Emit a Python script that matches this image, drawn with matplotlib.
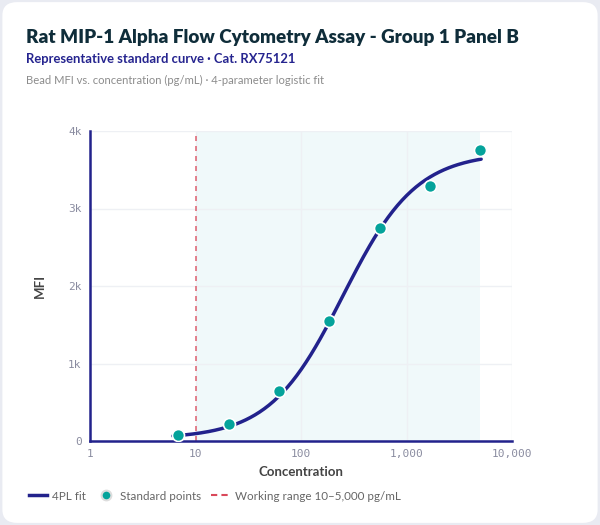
import numpy as np
import matplotlib.pyplot as plt
from matplotlib.patches import FancyBboxPatch
from matplotlib.lines import Line2D
from matplotlib.ticker import FixedLocator, FixedFormatter

# standard points (3-fold dilution series)
conc = [6.86, 20.6, 61.7, 185, 556, 1667, 5000]
mfi = [80, 220, 650, 1550, 2750, 3290, 3755]

# 4PL fit parameters: bottom, top, EC50, hill slope
fit_bottom = 30
fit_top = 3720
fit_ec50 = 250
fit_hill = 1.25
fit_range = [6.1, 5100]

working_range = [10, 5000]

x_ticks = [1, 10, 100, 1000, 10000]
x_tick_labels = ['1', '10', '100', '1,000', '10,000']
y_ticks = [0, 1000, 2000, 3000, 4000]
y_tick_labels = ['0', '1k', '2k', '3k', '4k']

NAVY = '#22228c'
TEAL = '#05a39b'
RED = '#d9485a'
SHADE = '#f0f9fa'

plt.rcParams['font.family'] = ['Lato', 'DejaVu Sans']

fig = plt.figure(figsize=(6, 5.25), dpi=100)
fig.patch.set_facecolor('#e9ebf2')

card = FancyBboxPatch((0.004, 0.004), 0.992, 0.992,
                      boxstyle='round,pad=0,rounding_size=0.025',
                      transform=fig.transFigure, facecolor='white',
                      edgecolor='none', zorder=-5)
fig.patches.append(card)

fig.text(26 / 600, 1 - 37 / 525, 'Rat MIP-1 Alpha Flow Cytometry Assay - Group 1 Panel B',
         fontsize=13.6, fontweight='heavy', color='#0f2d3a', va='center')
fig.text(26 / 600, 1 - 59 / 525, 'Representative standard curve · Cat. RX75121',
         fontsize=9.4, fontweight='bold', color='#25248f', va='center')
fig.text(26 / 600, 1 - 80 / 525, 'Bead MFI vs. concentration (pg/mL) · 4-parameter logistic fit',
         fontsize=8.1, color='#8c8c8c', va='center')

ax = fig.add_axes([90 / 600, 1 - 441 / 525, 422 / 600, 310 / 525])
ax.set_xscale('log')
ax.set_xlim(1, 10000)
ax.set_ylim(0, 4000)

ax.axvspan(working_range[0], working_range[1], color=SHADE, zorder=0, lw=0)
ax.axvline(working_range[0], color=RED, lw=1.2, ls=(0, (3, 3)), alpha=0.8, zorder=1)

xs = np.logspace(np.log10(fit_range[0]), np.log10(fit_range[1]), 200)
ys = fit_bottom + (fit_top - fit_bottom) * (xs / fit_ec50) ** fit_hill / (1 + (xs / fit_ec50) ** fit_hill)
ax.plot(xs, ys, color=NAVY, lw=2.5, zorder=3, solid_capstyle='round')
ax.scatter(conc, mfi, s=75, color=TEAL, edgecolors='white', linewidths=1.2, zorder=4)

ax.xaxis.set_major_locator(FixedLocator(x_ticks))
ax.xaxis.set_major_formatter(FixedFormatter(x_tick_labels))
ax.xaxis.set_minor_locator(FixedLocator([]))
ax.yaxis.set_major_locator(FixedLocator(y_ticks))
ax.yaxis.set_major_formatter(FixedFormatter(y_tick_labels))

ax.grid(True, color='#eef0f4', lw=1, zorder=0)
ax.set_axisbelow(True)
for side in ['top', 'right']:
    ax.spines[side].set_visible(False)
for side in ['left', 'bottom']:
    ax.spines[side].set_color(NAVY)
    ax.spines[side].set_linewidth(1.8)
ax.tick_params(length=0, pad=6, labelsize=8, labelcolor='#8a8ca0')
for lab in ax.get_xticklabels() + ax.get_yticklabels():
    lab.set_family('DejaVu Sans Mono')

ax.set_xlabel('Concentration', fontsize=9.5, fontweight='bold', color='#444444', labelpad=5)
ax.set_ylabel('MFI', fontsize=9.5, fontweight='bold', color='#444444', labelpad=16)

handles = [
    Line2D([], [], color=NAVY, lw=2.5),
    Line2D([], [], color=TEAL, marker='o', ls='none', markersize=7,
           markeredgecolor='#dddddd', markeredgewidth=1.5),
    Line2D([], [], color=RED, lw=1.5, ls=(0, (3, 2))),
]
labels = ['4PL fit', 'Standard points', 'Working range 10–5,000 pg/mL']
fig.legend(handles, labels, loc='center left', bbox_to_anchor=(18 / 600, 1 - 496 / 525),
           ncol=3, frameon=False, fontsize=8.4, labelcolor='#666666',
           handlelength=1.6, handletextpad=0.4, columnspacing=0.9)

fig.savefig('out.png', dpi=100, facecolor=fig.get_facecolor())
